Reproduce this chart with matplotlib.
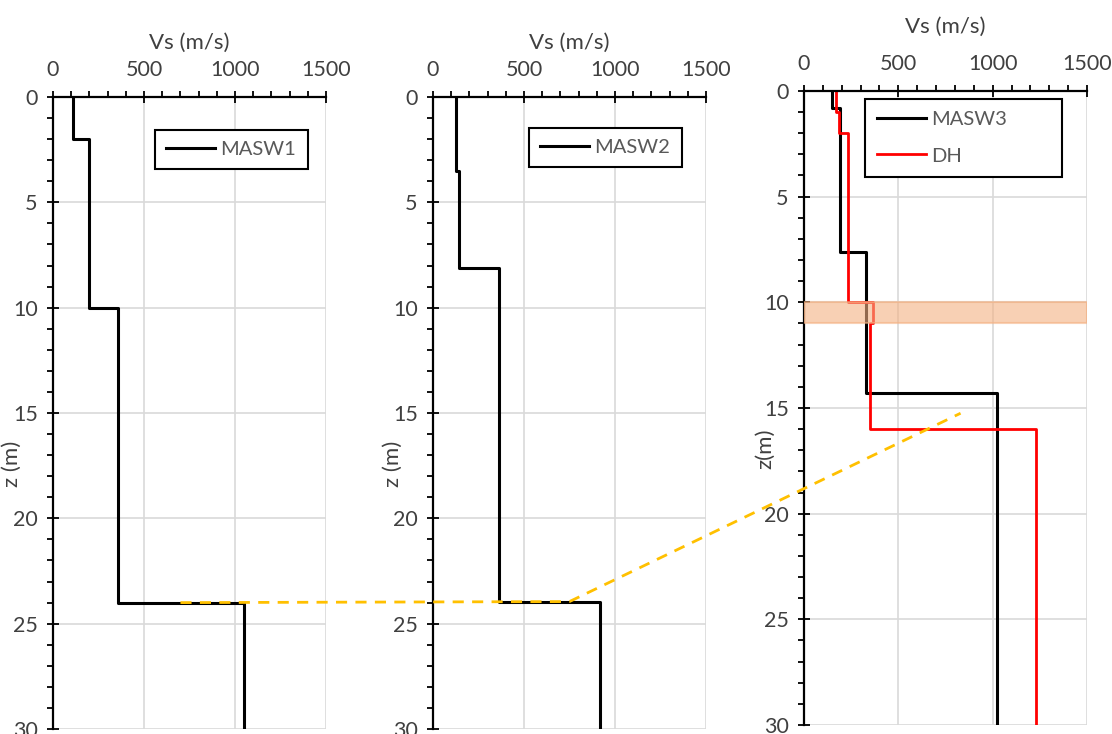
import numpy as np
import matplotlib
matplotlib.use("Agg")
import matplotlib.pyplot as plt
from matplotlib.lines import Line2D
from matplotlib.ticker import MultipleLocator

plt.rcParams['font.family'] = ['Lato', 'DejaVu Sans']

# layer boundaries (m) and shear wave velocity per layer (m/s)
masw1_depth = [0, 2, 10, 24, 30]
masw1_vs = [110, 200, 355, 1050]
masw2_depth = [0, 3.5, 8.1, 23.95, 30]
masw2_vs = [128, 145, 360, 920]
masw3_depth = [0, 0.8, 7.6, 14.3, 30]
masw3_vs = [150, 190, 330, 1022]
dh_depth = [0, 1, 2, 10, 11, 16, 30]
dh_vs = [170, 186, 232, 364, 350, 1230]

# highlighted layer in the third panel
band_top, band_bottom = 10, 11

# dashed correlation line: (panel, vs, z)
link_panel = [0, 1, 2]
link_vs = [700, 750, 830]
link_z = [24, 23.95, 15.25]

txt_col = '#404040'


def step_profile(depth, vs):
    depth = np.asarray(depth, dtype=float)
    vs = np.asarray(vs, dtype=float)
    x = np.repeat(vs, 2)
    y = np.column_stack([depth[:-1], depth[1:]]).ravel()
    return x, y


def style_axis(ax, ylabel, label_xy, title_pad):
    ax.set_xlim(0, 1500)
    ax.set_ylim(30, 0)
    ax.xaxis.tick_top()
    ax.xaxis.set_label_position('top')
    ax.set_xticks([0, 500, 1000, 1500])
    ax.set_yticks([0, 5, 10, 15, 20, 25, 30])
    ax.xaxis.set_minor_locator(MultipleLocator(100))
    ax.yaxis.set_minor_locator(MultipleLocator(1))
    ax.tick_params(which='major', direction='inout', length=8, width=1.3,
                   labelsize=15.5, labelcolor=txt_col, color='black')
    ax.tick_params(which='minor', direction='out', length=4, width=1.3, color='black')
    ax.tick_params(axis='x', which='both', top=True, bottom=False, pad=8.5)
    ax.tick_params(axis='y', which='major', pad=7)
    for s in ['right', 'bottom']:
        ax.spines[s].set_visible(False)
    for s in ['top', 'left']:
        ax.spines[s].set_linewidth(1.6)
    ax.grid(True, which='major', color='#d9d9d9', lw=1.2)
    ax.set_axisbelow(True)
    ax.set_xlabel('Vs (m/s)', fontsize=16, color=txt_col, labelpad=title_pad)
    ax.set_ylabel(ylabel, fontsize=16, color=txt_col)
    ax.yaxis.set_label_coords(*label_xy)


fig = plt.figure(figsize=(11.12, 7.34), dpi=100)
ax1 = fig.add_axes([0.0477, 0.0068, 0.2455, 0.861])
ax2 = fig.add_axes([0.3894, 0.0068, 0.2455, 0.861])
ax3 = fig.add_axes([0.7230, 0.0122, 0.2545, 0.8640])

x, y = step_profile(masw1_depth, masw1_vs)
ax1.plot(x, y, color='black', lw=2.2, label='MASW1')
style_axis(ax1, 'z (m)', (-0.114, 0.42), 8)

x, y = step_profile(masw2_depth, masw2_vs)
ax2.plot(x, y, color='black', lw=2.2, label='MASW2')
style_axis(ax2, 'z (m)', (-0.11, 0.42), 8)

x, y = step_profile(masw3_depth, masw3_vs)
ax3.plot(x, y, color='black', lw=2.2, label='MASW3')
x, y = step_profile(dh_depth, dh_vs)
ax3.plot(x, y, color='#ff0000', lw=2.0, label='DH')
ax3.axhspan(band_top, band_bottom, facecolor='#f4b183', edgecolor='#f4b183',
            alpha=0.6, lw=1.5, zorder=5)
style_axis(ax3, 'z(m)', (-0.10, 0.435), 15)

leg_kw = dict(loc='upper left', mode='expand', fancybox=False, framealpha=1,
              edgecolor='black', fontsize=14.5, labelcolor='#595959',
              handlelength=2.4, handletextpad=0.3, borderaxespad=0)
l1 = ax1.legend(bbox_to_anchor=(0.374, 0.938, 0.56, 0.01), borderpad=0.55, **leg_kw)
l2 = ax2.legend(bbox_to_anchor=(0.352, 0.941, 0.56, 0.01), borderpad=0.55, **leg_kw)
l3 = ax3.legend(bbox_to_anchor=(0.216, 0.977, 0.696, 0.01), borderpad=0.6,
                labelspacing=0.95, **leg_kw)
for lg in (l1, l2, l3):
    lg.get_frame().set_linewidth(1.5)

# dashed link across the three panels (data -> figure coords)
axes = [ax1, ax2, ax3]
pts = []
for p, v, z in zip(link_panel, link_vs, link_z):
    disp = axes[p].transData.transform((v, z))
    pts.append(fig.transFigure.inverted().transform(disp))
pts = np.array(pts)
fig.add_artist(Line2D(pts[:, 0], pts[:, 1], transform=fig.transFigure,
                      color='#ffc000', lw=2.0, dashes=(4, 3), zorder=10))

fig.savefig('out.png', dpi=100)
